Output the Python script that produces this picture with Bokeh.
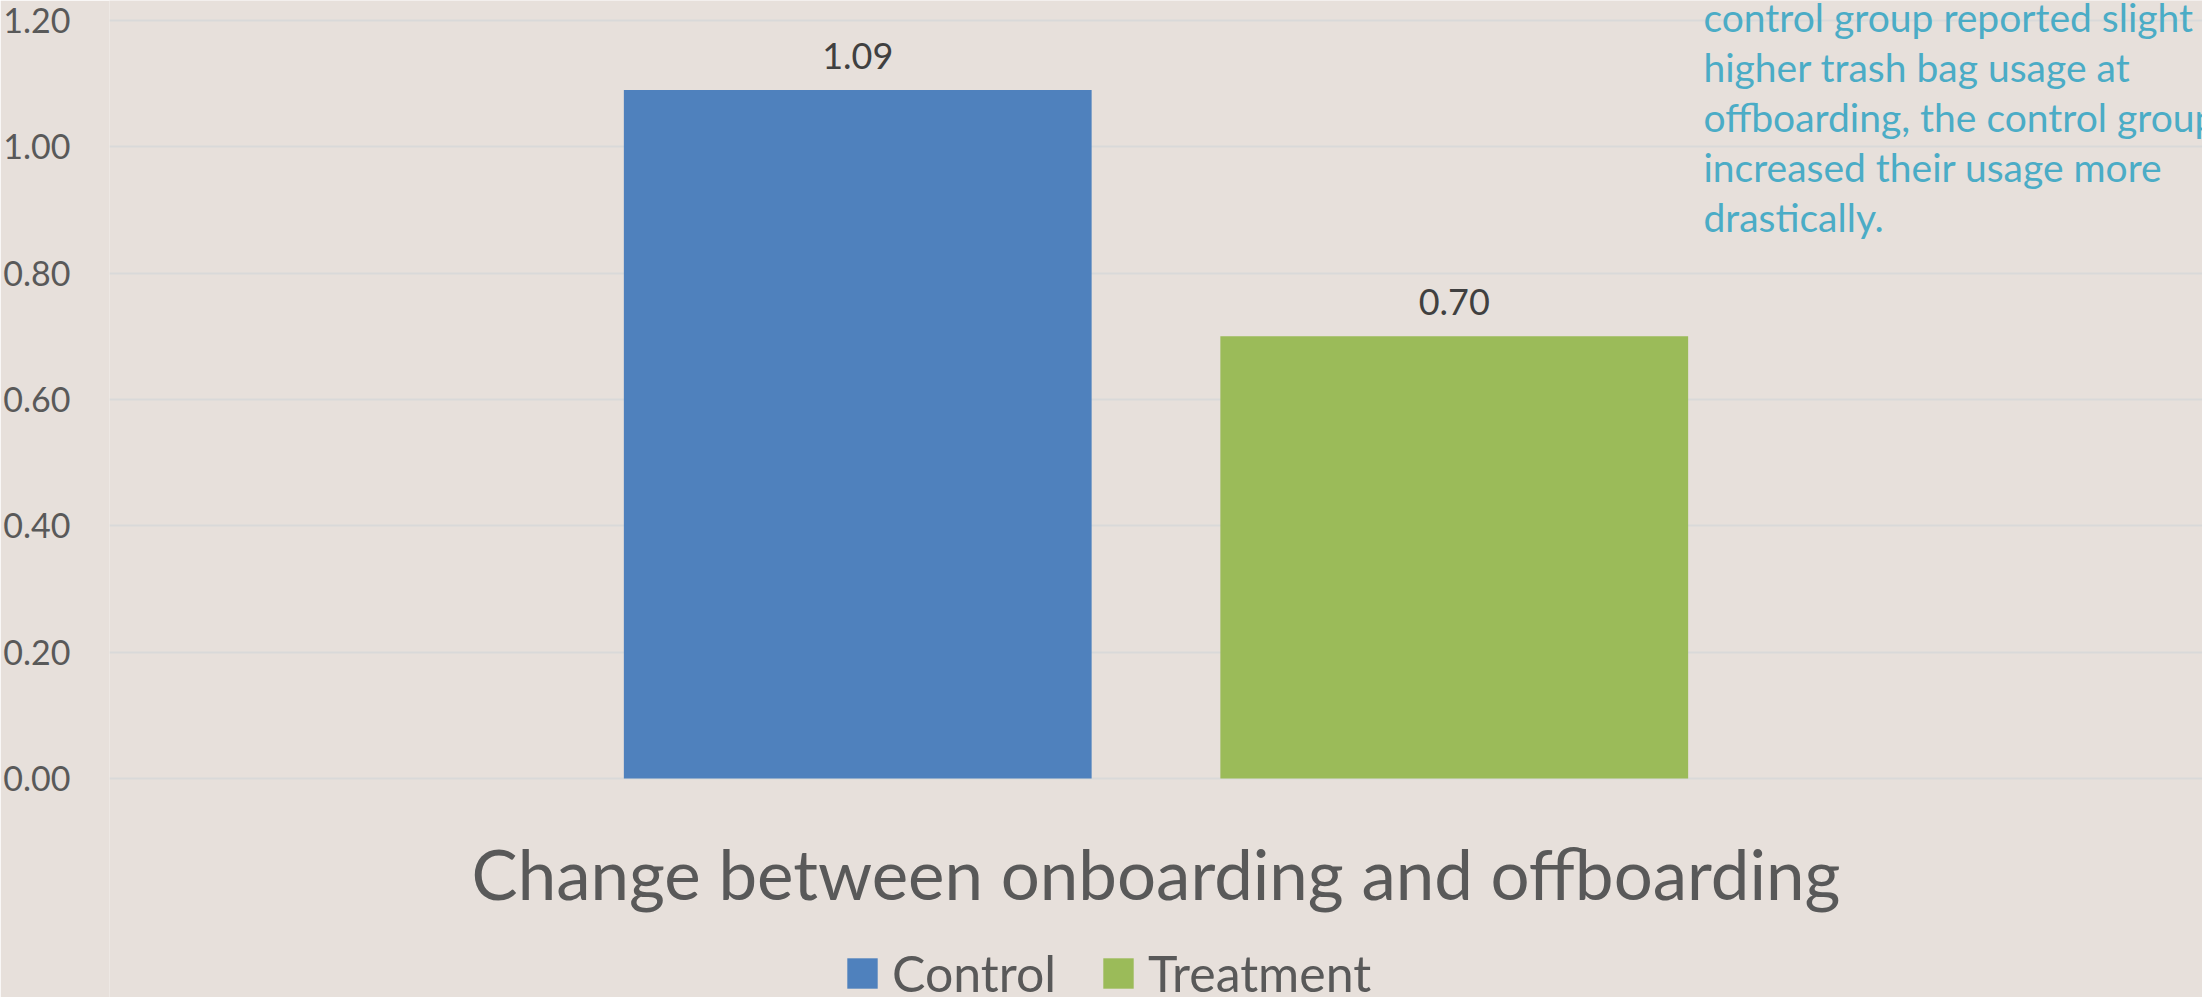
from bokeh.plotting import figure
from bokeh.models import (FactorRange, Range1d, FixedTicker, NumeralTickFormatter,
                          ColumnDataSource, Legend, LegendItem)
from bokeh.transform import dodge
from bokeh.core.properties import value
from bokeh.embed import file_html
from bokeh.resources import INLINE

# ---- data ----
categories = ["Change between onboarding and offboarding"]
series_names = ["Control", "Treatment"]
control_values = [1.09]
treatment_values = [0.70]
series_colors = ["#4F81BD", "#9BBB59"]
y_ticks = [0.0, 0.2, 0.4, 0.6, 0.8, 1.0, 1.2]
note_lines = [
    "control group reported slight",
    "higher trash bag usage at",
    "offboarding, the control group",
    "increased their usage more",
    "drastically.",
]

# ---- layout / style ----
W, H = 2202, 997
LEFT = 105
BG = "#E7E0DB"
FONT = "Lato"
TOP_GRID_PX = 20      # screen y of the top gridline
ZERO_PX = 778         # screen y of the zero line
y_max = y_ticks[-1]
px_per_unit = (ZERO_PX - TOP_GRID_PX) / y_max
y_end = y_max + TOP_GRID_PX / px_per_unit
y_start = -(H - ZERO_PX) / px_per_unit

p = figure(width=W, height=H,
           x_range=FactorRange(*categories),
           y_range=Range1d(y_start, y_end),
           output_backend="svg", toolbar_location=None,
           min_border_left=LEFT, min_border_right=0, min_border_top=0,
           min_border_bottom=0,
           background_fill_color=BG, border_fill_color=BG,
           outline_line_color=None)

offsets = [-0.1425, 0.1425]
bar_width = 0.2235
renderers = []
for name, vals, color, off in zip(series_names, [control_values, treatment_values],
                                  series_colors, offsets):
    src = ColumnDataSource(dict(cat=categories, val=vals,
                                label=[f"{v:.2f}" for v in vals]))
    r = p.vbar(x=dodge("cat", off, range=p.x_range), top="val", bottom=0,
               width=bar_width, source=src, fill_color=color, line_color=None)
    renderers.append(r)
    p.text(x=dodge("cat", off, range=p.x_range), y="val", text="label", source=src,
           text_align="center", text_baseline="alphabetic", y_offset=-34,
           text_font=value(FONT), text_font_size="36px", text_color="#404040")

# category label under the bars
cat_src = ColumnDataSource(dict(cat=categories, y=[0.0] * len(categories)))
p.text(x="cat", y="y", text="cat", source=cat_src, text_align="center",
       text_baseline="alphabetic", y_offset=95, text_font=value(FONT),
       text_font_size="69px", text_color="#595959")

# annotation text (clipped at right edge like the original)
note_x = (1702 - LEFT) / (W - LEFT)
note_src = ColumnDataSource(dict(
    x=[note_x] * len(note_lines),
    y=[y_max] * len(note_lines),
    dy=[-4 + 50.2 * i for i in range(len(note_lines))],
    t=note_lines))
p.text(x="x", y="y", text="t", y_offset="dy", source=note_src, text_align="left",
       text_baseline="alphabetic", text_font=value(FONT), text_font_size="39px",
       text_color="#4BACC6")

# axes / grid
p.xaxis.visible = False
p.xgrid.visible = False
p.ygrid.grid_line_color = "#D9D9D9"
p.ygrid.grid_line_width = 2

ya = p.yaxis[0]
ya.ticker = FixedTicker(ticks=y_ticks)
ya.formatter = NumeralTickFormatter(format="0.00")
ya.axis_line_color = None
ya.major_tick_line_color = None
ya.minor_tick_line_color = None
ya.major_label_text_font = FONT
ya.major_label_text_font_size = "34px"
ya.major_label_text_color = "#595959"
ya.major_label_standoff = 33

legend = Legend(items=[LegendItem(label=n, renderers=[r])
                       for n, r in zip(series_names, renderers)],
                orientation="horizontal", location=(839 - LEFT, -6),
                padding=0, margin=0, spacing=43, label_standoff=11,
                glyph_width=38, glyph_height=38,
                label_text_font=FONT, label_text_font_size="50px",
                label_text_color="#595959",
                background_fill_alpha=0, border_line_color=None)
p.add_layout(legend, "center")

open("out.html", "w").write(file_html(p, INLINE))
